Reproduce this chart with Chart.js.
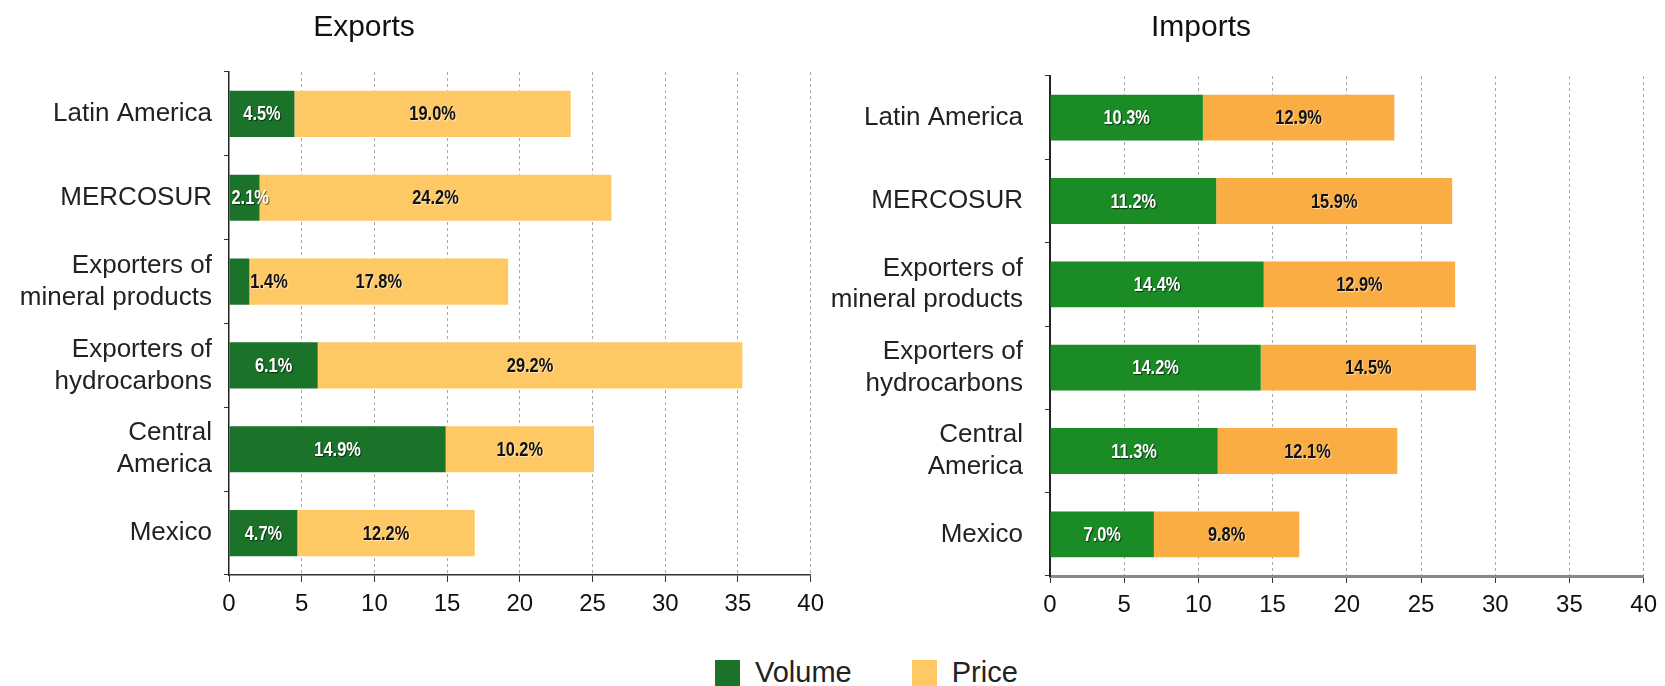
<!DOCTYPE html>
<html>
<head>
<meta charset="utf-8">
<script src="https://cdn.jsdelivr.net/npm/chart.js@4"></script>
<style>
  body { margin: 0; width: 1665px; height: 686px; overflow: hidden; background: #fff; position: relative; font-family: "Liberation Sans", Arial, sans-serif; }
  canvas { position: absolute; top: 0; }
  #exports { left: 0; }
  #imports { left: 832px; }
  #legend { position: absolute; top: 658px; left: 715px; display: flex; font-size: 29px; line-height: 1; color: #222; }
  .item { display: flex; align-items: flex-start; margin-right: 40px; }
  .box { width: 25px; height: 28px; margin-top: 2px; margin-right: 15px; }
</style>
</head>
<body>
<canvas id="exports" width="832" height="640"></canvas>
<canvas id="imports" width="833" height="640"></canvas>
<div id="legend"></div>
<script>
// categories and series
const categories = ['Latin America', 'MERCOSUR', ['Exporters of', 'mineral products'], ['Exporters of', 'hydrocarbons'], ['Central', 'America'], 'Mexico'];
const seriesNames = ['Volume', 'Price'];
const exportVolume = [4.5, 2.1, 1.4, 6.1, 14.9, 4.7];
const exportPrice = [19.0, 24.2, 17.8, 29.2, 10.2, 12.2];
const importVolume = [10.3, 11.2, 14.4, 14.2, 11.3, 7.0];
const importPrice = [12.9, 15.9, 12.9, 14.5, 12.1, 9.8];
const xMin = 0, xMax = 40, xStep = 5;

const FONT = '"Liberation Sans", Arial, sans-serif';

// narrow bold font for the bar labels, squeezed by hand if the narrow face is missing
const probe = document.createElement('canvas').getContext('2d');
probe.font = 'bold 20px "Liberation Sans Narrow", monospace';
const wNarrow = probe.measureText('19.0%').width;
probe.font = 'bold 20px monospace';
const hasNarrow = Math.abs(wNarrow - probe.measureText('19.0%').width) > 0.5;
const labelFont = hasNarrow ? 'bold 20px "Liberation Sans Narrow"' : 'bold 20px ' + FONT;
const squeeze = hasNarrow ? 1 : 0.82;

// title drawn at a fixed spot above each panel
const panelTitle = {
    id: 'panelTitle',
    afterDraw(chart, args, opts) {
        const ctx = chart.ctx;
        ctx.save();
        ctx.font = '30px ' + FONT;
        ctx.fillStyle = '#111';
        ctx.textAlign = 'center';
        ctx.textBaseline = 'middle';
        ctx.fillText(opts.text, opts.x, opts.y);
        ctx.restore();
    }
};

// percent labels inside the bar segments
const barLabels = {
    id: 'barLabels',
    afterDatasetsDraw(chart) {
        const ctx = chart.ctx;
        ctx.save();
        ctx.font = labelFont;
        ctx.textBaseline = 'middle';
        chart.data.datasets.forEach((ds, d) => {
            chart.getDatasetMeta(d).data.forEach((bar, i) => {
                const p = bar.getProps(['x', 'y', 'base'], true);
                const text = ds.data[i].toFixed(1) + '%';
                const w = p.x - p.base;
                const tw = ctx.measureText(text).width * squeeze;
                let cx = (p.x + p.base) / 2, align = 'center';
                let light = d === 0;
                if (tw > w) {
                    align = 'left';
                    if (w < 25) { cx = p.x + 1; light = false; }
                    else cx = p.base + 2;
                }
                ctx.textAlign = align;
                ctx.fillStyle = light ? '#fff' : '#111';
                ctx.shadowColor = light ? 'rgba(0,0,0,0.6)' : 'rgba(255,255,255,0.6)';
                ctx.shadowOffsetX = 1;
                ctx.shadowOffsetY = 1;
                ctx.shadowBlur = 1;
                ctx.save();
                ctx.translate(cx, p.y + 1);
                ctx.scale(squeeze, 1);
                ctx.fillText(text, 0, 0);
                ctx.restore();
            });
        });
        ctx.restore();
    }
};

function makeChart(id, cfg) {
    return new Chart(document.getElementById(id), {
        type: 'bar',
        data: {
            labels: categories,
            datasets: [
                { label: seriesNames[0], data: cfg.volume, backgroundColor: cfg.colors[0] },
                { label: seriesNames[1], data: cfg.price, backgroundColor: cfg.colors[1] }
            ]
        },
        options: {
            indexAxis: 'y',
            responsive: false,
            animation: false,
            barPercentage: 0.55,
            categoryPercentage: 1,
            layout: { padding: { left: 0, right: cfg.right, top: cfg.top, bottom: cfg.bottom } },
            scales: {
                x: {
                    stacked: true,
                    min: xMin, max: xMax,
                    ticks: { stepSize: xStep, color: '#111', font: { family: FONT, size: 24 }, padding: 8 },
                    grid: {
                        color: ctx => ctx.tick && ctx.tick.value === 0 ? 'rgba(0,0,0,0)' : '#aaa',
                        lineWidth: 1,
                        tickLength: 7,
                        tickColor: '#333',
                        tickBorderDash: []
                    },
                    border: { display: true, color: cfg.xAxisColor, width: cfg.xAxisWidth, dash: [3, 3] },
                    afterFit: s => { s.height = 50; }
                },
                y: {
                    stacked: true,
                    ticks: { color: '#222', font: { family: FONT, size: 26, lineHeight: 1.23 }, padding: cfg.labelPad },
                    grid: { drawOnChartArea: false, drawTicks: true, tickLength: 5, color: '#333' },
                    border: { display: true, color: '#222', width: cfg.yAxisWidth },
                    afterFit: s => { s.width = cfg.yWidth; }
                }
            },
            plugins: {
                legend: { display: false },
                tooltip: { enabled: false },
                panelTitle: { text: cfg.title, x: cfg.titleX, y: 28 }
            }
        },
        plugins: [panelTitle, barLabels]
    });
}

makeChart('exports', {
    title: 'Exports', titleX: 364,
    volume: exportVolume, price: exportPrice,
    colors: ['#1b7329', '#fec964'],
    yWidth: 229, right: 17, top: 72, bottom: 15, labelPad: 12,
    xAxisColor: '#333', xAxisWidth: 1.5, yAxisWidth: 1.5
});

makeChart('imports', {
    title: 'Imports', titleX: 369,
    volume: importVolume, price: importPrice,
    colors: ['#1a8b25', '#f9ad43'],
    yWidth: 218, right: 20, top: 76, bottom: 14, labelPad: 22,
    xAxisColor: '#888', xAxisWidth: 3, yAxisWidth: 2
});

// shared legend
const legendColors = ['#1b7329', '#fec964'];
const legend = document.getElementById('legend');
seriesNames.forEach((name, i) => {
    const item = document.createElement('div');
    item.className = 'item';
    if (i === 0) item.style.marginRight = '60px';
    item.innerHTML = '<span class="box" style="background:' + legendColors[i] + '"></span><span>' + name + '</span>';
    legend.appendChild(item);
});
</script>
</body>
</html>
